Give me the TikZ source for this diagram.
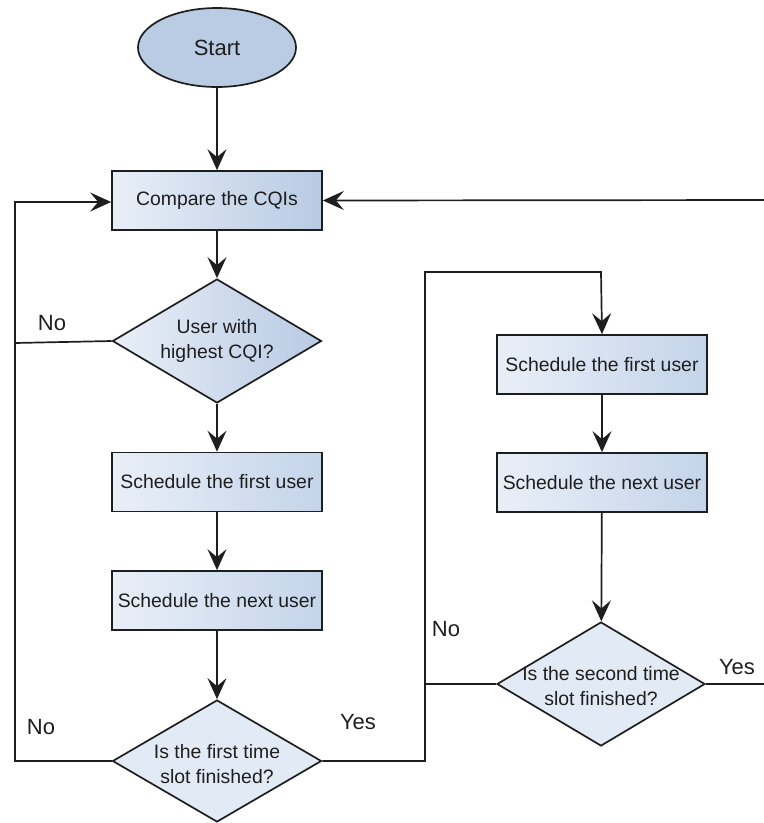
\documentclass[tikz,border=0pt]{standalone}
\usepackage{fontspec}
\setmainfont{Liberation Sans}
\usetikzlibrary{shapes.geometric,arrows.meta}

\definecolor{startfill}{RGB}{185,204,228}
\definecolor{boxL}{RGB}{233,239,248}
\definecolor{boxR}{RGB}{184,202,227}
\definecolor{pboxR}{RGB}{196,212,234}
\definecolor{qfill}{RGB}{226,234,246}
\definecolor{ink}{RGB}{30,30,30}

\begin{document}
\begin{tikzpicture}[x=1pt,y=-1pt,
  every node/.style={font=\fontsize{19.4}{24.5}\selectfont, text=ink},
  flow/.style={line width=1.7pt, draw=ink},
  arr/.style={flow, -{Stealth[length=21pt,width=19pt,inset=8pt]}},
  startnode/.style={ellipse, draw=ink, line width=1.7pt, fill=startfill,
    minimum width=158pt, minimum height=79pt, inner sep=0pt,
    font=\fontsize{22}{26}\selectfont},
  mainbox/.style={draw=ink, line width=1.7pt, minimum width=210pt,
    minimum height=59pt, inner sep=0pt, left color=boxL, right color=boxR},
  procbox/.style={mainbox, left color=boxL, right color=pboxR},
  decision/.style={diamond, draw=ink, line width=1.7pt, inner sep=0pt,
    minimum width=209pt, minimum height=124pt},
  decshade/.style={decision, left color=boxL, right color=boxR},
  decflat/.style={decision, fill=qfill},
  dtext/.style={align=center, inner sep=0pt},
  lbl/.style={font=\fontsize{22}{26}\selectfont, inner sep=0pt}
]
\useasboundingbox (0,0) rectangle (764,823);
\clip (0,0) rectangle (764,823);

% left column
\node[startnode] (start) at (217,47.5) {Start};
\node[mainbox] (compare) at (217,200.5) {Compare the CQIs};
\node[decshade] (d1) at (217,341) {};
\node[dtext] at (d1) {User with\\highest CQI?};
\node[procbox] (s1) at (217,482) {Schedule the first user};
\node[procbox] (s2) at (217,600.5) {Schedule the next user};
\node[decflat, minimum height=122pt] (d2) at (217,761) {};
\node[dtext] at (217,764) {Is the first time\\slot finished?};

% right column
\node[procbox] (r1) at (602,364.5) {Schedule the first user};
\node[procbox] (r2) at (602,482.5) {Schedule the next user};
\node[decflat, minimum width=208pt] (d3) at (601,684) {};
\node[dtext] at (601,686) {Is the second time\\slot finished?};

% bends of the loop-back lines
\coordinate (lx1) at (15,343);
\coordinate (lx0) at (15,202);
\coordinate (lx2) at (15,761);
\coordinate (mx1) at (425,761);
\coordinate (mx0) at (425,272);
\coordinate (mx3) at (425,684);
\coordinate (rx0) at (601,272);
\coordinate (ex1) at (770,684);
\coordinate (ex0) at (770,200);

% main flow
\draw[arr] (start) -- (compare);
\draw[arr] (compare) -- (d1);
\draw[arr] (d1) -- (s1);
\draw[arr] (s1) -- (s2);
\draw[arr] (s2) -- (d2);
\draw[arr] (r1) -- (r2);
\draw[arr] (r2) -- (d3);

% loops
\draw[arr] (d1.west) -- (lx1) -- (lx0) -- (compare.west |- lx0);
\draw[flow] (d2.west) -- (lx2) -- (lx1);
\draw[arr] (d2.east) -- (mx1) -- (mx0) -- (rx0) -- (r1.north);
\draw[flow] (d3.west) -- (mx3);
\draw[arr] (d3.east) -- (ex1) -- (ex0) -- (compare.east);

% branch labels
\node[lbl] at (52,323) {No};
\node[lbl] at (41,727) {No};
\node[lbl] at (358,722) {Yes};
\node[lbl] at (446,629) {No};
\node[lbl] at (737,667) {Yes};
\end{tikzpicture}
\end{document}
